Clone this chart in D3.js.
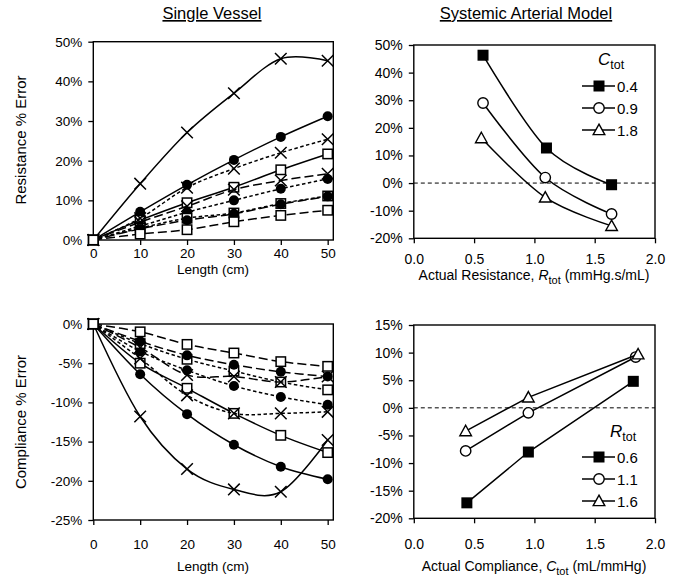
<!DOCTYPE html>
<html><head><meta charset="utf-8">
<script src="https://cdn.jsdelivr.net/npm/d3@7"></script>
<style>
body{margin:0;background:#fff}
text{font-family:"Liberation Sans",Arial,sans-serif;fill:#000}
</style>
</head><body>
<svg id="c" width="694" height="581"></svg>
<script>
// ---------- DATA ----------
const lengths = [0, 10, 20, 30, 40, 50];
const lengthTicks = [0, 10, 20, 30, 40, 50];

// Single vessel: resistance % error
const resSolidX   = [0, 14.2, 27.1, 37.0, 45.7, 45.2];
const resSolidDot = [0, 7.1, 13.9, 20.2, 26.0, 31.2];
const resSolidSq  = [0, 5.0, 9.4, 13.3, 17.7, 21.7];
const resShortX   = [0, 5.5, 13.2, 18.0, 22.0, 25.4];
const resShortDot = [0, 3.5, 7.0, 10.0, 12.9, 15.4];
const resShortSq  = [0, 3.0, 5.5, 6.8, 9.2, 11.1];
const resLongX    = [0, 4.5, 8.5, 12.7, 15.0, 16.7];
const resLongDot  = [0, 2.8, 5.0, 6.6, 9.0, 11.0];
const resLongSq   = [0, 1.5, 2.6, 4.6, 6.2, 7.5];

// Single vessel: compliance % error
const comSolidX   = [0, -11.8, -18.5, -21.1, -21.4, -14.8];
const comSolidDot = [0, -6.4, -11.5, -15.4, -18.2, -19.8];
const comSolidSq  = [0, -5.0, -8.2, -11.4, -14.2, -16.4];
const comShortX   = [0, -4.4, -9.1, -11.4, -11.4, -11.2];
const comShortDot = [0, -3.5, -5.9, -7.9, -9.3, -10.3];
const comShortSq  = [0, -2.5, -4.5, -6.0, -7.4, -8.4];
const comLongX    = [0, -3.0, -6.5, -6.7, -7.4, -6.7];
const comLongDot  = [0, -2.2, -4.0, -5.2, -6.1, -6.7];
const comLongSq   = [0, -1.0, -2.6, -3.7, -4.8, -5.4];

// Systemic arterial model: resistance error vs actual resistance
const ctotLabels = ["0.4", "0.9", "1.8"];
const rActualC04 = [0.574, 1.10, 1.64];
const rErrC04    = [46.3, 12.7, -0.6];
const rActualC09 = [0.574, 1.09, 1.64];
const rErrC09    = [29.0, 2.0, -11.2];
const rActualC18 = [0.56, 1.09, 1.64];
const rErrC18    = [16.3, -5.2, -15.5];

// Systemic arterial model: compliance error vs actual compliance
const rtotLabels = ["0.6", "1.1", "1.6"];
const cActualR06 = [0.44, 0.95, 1.82];
const cErrR06    = [-17.2, -8.0, 4.8];
const cActualR11 = [0.43, 0.95, 1.84];
const cErrR11    = [-7.8, -0.9, 9.2];
const cActualR16 = [0.43, 0.95, 1.86];
const cErrR16    = [-4.2, 1.9, 9.7];

const resPctTicks = [0, 10, 20, 30, 40, 50];
const comPctTicks = [0, -5, -10, -15, -20, -25];
const rErrTicks = [50, 40, 30, 20, 10, 0, -10, -20];
const cErrTicks = [15, 10, 5, 0, -5, -10, -15, -20];
const actualTicks = [0, 0.5, 1.0, 1.5, 2.0];

// ---------- DRAW ----------
const svg = d3.select("#c");
const SHORT = "3.5,2.5", LONG = "9,4";
const FONT = "Liberation Sans, Arial, sans-serif";

function marker(g, type, x, y) {
  if (type === "x") {
    const s = 5.8;
    g.append("path").attr("d", `M${x-s},${y-s}L${x+s},${y+s}M${x-s},${y+s}L${x+s},${y-s}`)
      .attr("stroke", "#000").attr("stroke-width", 1.5).attr("fill", "none");
  } else if (type === "dot") {
    g.append("circle").attr("cx", x).attr("cy", y).attr("r", 5).attr("fill", "#000");
  } else if (type === "sq") {
    g.append("rect").attr("x", x-4.7).attr("y", y-4.7).attr("width", 9.4).attr("height", 9.4)
      .attr("fill", "#fff").attr("stroke", "#000").attr("stroke-width", 1.5);
  } else if (type === "fsq") {
    g.append("rect").attr("x", x-5.5).attr("y", y-5.5).attr("width", 11).attr("height", 11).attr("fill", "#000");
  } else if (type === "oc") {
    g.append("circle").attr("cx", x).attr("cy", y).attr("r", 5.2)
      .attr("fill", "#fff").attr("stroke", "#000").attr("stroke-width", 1.4);
  } else if (type === "tri") {
    const s = 5.8;
    g.append("path").attr("d", `M${x},${y-s}L${x+s},${y+s*0.8}L${x-s},${y+s*0.8}Z`)
      .attr("fill", "#fff").attr("stroke", "#000").attr("stroke-width", 1.4);
  }
}

function panel(opt) {
  const g = svg.append("g");
  const x = opt.x, y = opt.y;
  const [x0, x1] = x.range(), [yb, yt] = y.range();
  const xa = g.append("g").attr("transform", `translate(0,${yb})`)
    .call(d3.axisBottom(x).tickValues(opt.xTicks).tickSize(5).tickSizeOuter(0).tickFormat(opt.xFmt));
  xa.select(".domain").remove();
  xa.selectAll("text").attr("font-size", opt.tickFont).attr("dy", opt.xdy).attr("font-family", FONT);
  xa.selectAll("line").attr("stroke-width", 1.3);
  const ya = g.append("g").attr("transform", `translate(${x0},0)`)
    .call(d3.axisLeft(y).tickValues(opt.yTicks).tickSize(5).tickSizeOuter(0).tickFormat(opt.yFmt));
  ya.select(".domain").remove();
  ya.selectAll("text").attr("font-size", opt.tickFont).attr("dx", opt.ydx).attr("font-family", FONT);
  ya.selectAll("line").attr("stroke-width", 1.3);
  g.append("rect").attr("x", x0).attr("y", yt).attr("width", x1 - x0).attr("height", yb - yt)
    .attr("fill", "none").attr("stroke", "#000").attr("stroke-width", 1.4);
  return g;
}

const pctFmt = v => Math.round(v) + "%";

const xL = d3.scaleLinear().domain([0, 51.2]).range([93.3, 333.3]);
const yTL = d3.scaleLinear().domain([0, 50]).range([240, 41.7]);
const yBL = d3.scaleLinear().domain([-25, 0]).range([520, 324]);
const xR = d3.scaleLinear().domain([0, 2]).range([413.8, 655]);
const yTR = d3.scaleLinear().domain([-20, 50]).range([238.3, 45]);
const yBR = d3.scaleLinear().domain([-20, 15]).range([518.3, 325]);

const gTL = panel({x: xL, y: yTL, xTicks: lengthTicks, yTicks: resPctTicks, xFmt: d3.format("d"), yFmt: pctFmt, tickFont: 13.5, xdy: 10, ydx: "-3"});
const gBL = panel({x: xL, y: yBL, xTicks: lengthTicks, yTicks: comPctTicks, xFmt: d3.format("d"), yFmt: pctFmt, tickFont: 13.5, xdy: 21, ydx: "-3"});
const gTR = panel({x: xR, y: yTR, xTicks: actualTicks, yTicks: rErrTicks, xFmt: d3.format(".1f"), yFmt: pctFmt, tickFont: 14, xdy: 18, ydx: "-3"});
const gBR = panel({x: xR, y: yBR, xTicks: actualTicks, yTicks: cErrTicks, xFmt: d3.format(".1f"), yFmt: pctFmt, tickFont: 14, xdy: 23, ydx: "-3"});

const smooth = d3.curveCatmullRom.alpha(0);

function series(g, xs, ys, xsc, ysc, mk, dash, curve) {
  const pts = xs.map((d, i) => [xsc(d), ysc(ys[i])]);
  g.append("path").attr("d", d3.line().curve(curve)(pts))
    .attr("fill", "none").attr("stroke", "#000").attr("stroke-width", 1.5)
    .attr("stroke-dasharray", dash);
  pts.forEach(p => marker(g, mk, p[0], p[1]));
}

const leftSpecs = [
  ["x", null], ["dot", null], ["sq", null],
  ["x", SHORT], ["dot", SHORT], ["sq", SHORT],
  ["x", LONG], ["dot", LONG], ["sq", LONG]
];
const resSeries = [resSolidX, resSolidDot, resSolidSq, resShortX, resShortDot, resShortSq, resLongX, resLongDot, resLongSq];
const comSeries = [comSolidX, comSolidDot, comSolidSq, comShortX, comShortDot, comShortSq, comLongX, comLongDot, comLongSq];
resSeries.forEach((s, i) => series(gTL, lengths, s, xL, yTL, leftSpecs[i][0], leftSpecs[i][1], smooth));
comSeries.forEach((s, i) => series(gBL, lengths, s, xL, yBL, leftSpecs[i][0], leftSpecs[i][1], smooth));

[[gTR, yTR], [gBR, yBR]].forEach(([g, ys]) => {
  g.append("line").attr("x1", xR(0)).attr("x2", xR(2)).attr("y1", ys(0)).attr("y2", ys(0))
    .attr("stroke", "#000").attr("stroke-width", 1).attr("stroke-dasharray", "4,3");
});

const rightMk = ["fsq", "oc", "tri"];
[[rActualC04, rErrC04], [rActualC09, rErrC09], [rActualC18, rErrC18]]
  .forEach((s, i) => series(gTR, s[0], s[1], xR, yTR, rightMk[i], null, smooth));
[[cActualR06, cErrR06], [cActualR11, cErrR11], [cActualR16, cErrR16]]
  .forEach((s, i) => series(gBR, s[0], s[1], xR, yBR, rightMk[i], null, d3.curveLinear));

function legend(title, labels, tx, ty, y0) {
  const t = svg.append("text").attr("x", tx).attr("y", ty).attr("font-size", 17);
  t.append("tspan").attr("font-style", "italic").text(title);
  t.append("tspan").attr("font-size", 12.5).attr("dy", 4).text("tot");
  labels.forEach((l, i) => {
    const yy = y0 + i * 22;
    svg.append("line").attr("x1", 582).attr("x2", 615).attr("y1", yy).attr("y2", yy)
      .attr("stroke", "#000").attr("stroke-width", 1.5);
    marker(svg, rightMk[i], 599, yy);
    svg.append("text").attr("x", 617).attr("y", yy + 5.5).attr("font-size", 15).text(l);
  });
}
legend("C", ctotLabels, 598, 65, 86);
legend("R", rtotLabels, 610, 437, 457);

svg.append("text").attr("x", 212).attr("y", 19).attr("text-anchor", "middle").attr("font-size", 16.5)
  .attr("text-decoration", "underline").text("Single Vessel");
svg.append("text").attr("x", 526).attr("y", 19).attr("text-anchor", "middle").attr("font-size", 16.5)
  .attr("text-decoration", "underline").text("Systemic Arterial Model");

svg.append("text").attr("x", 213).attr("y", 274).attr("text-anchor", "middle").attr("font-size", 13.5).text("Length (cm)");
svg.append("text").attr("x", 213).attr("y", 571).attr("text-anchor", "middle").attr("font-size", 13.5).text("Length (cm)");
svg.append("text").attr("transform", "translate(26,140) rotate(-90)").attr("text-anchor", "middle").attr("font-size", 15).text("Resistance % Error");
svg.append("text").attr("transform", "translate(26,422) rotate(-90)").attr("text-anchor", "middle").attr("font-size", 15).text("Compliance % Error");

function subTitle(pre, v, post, cx, y) {
  const t = svg.append("text").attr("x", cx).attr("y", y).attr("text-anchor", "middle").attr("font-size", 14);
  t.append("tspan").text(pre);
  t.append("tspan").attr("font-style", "italic").text(v);
  t.append("tspan").attr("font-size", 11).attr("dy", 4).text("tot");
  t.append("tspan").attr("dy", -4).text(post);
}
subTitle("Actual Resistance, ", "R", " (mmHg.s/mL)", 534, 280);
subTitle("Actual Compliance, ", "C", " (mL/mmHg)", 534, 571);
</script>
</body></html>
